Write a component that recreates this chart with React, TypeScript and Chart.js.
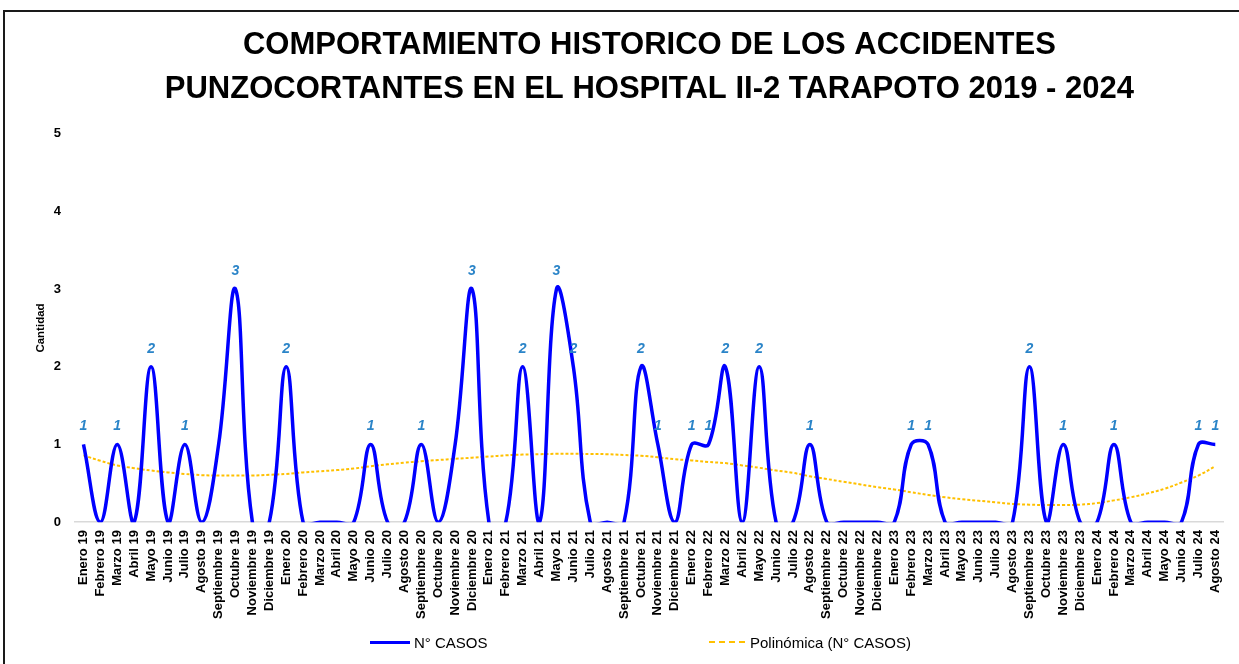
import React, { useEffect, useRef } from "react";
import { Chart, registerables } from "chart.js";

Chart.register(...registerables);

const months: string[] = [
  "Enero 19", "Febrero 19", "Marzo 19", "Abril 19", "Mayo 19", "Junio 19", "Julio 19", "Agosto 19", "Septiembre 19", "Octubre 19", "Noviembre 19", "Diciembre 19",
  "Enero 20", "Febrero 20", "Marzo 20", "Abril 20", "Mayo 20", "Junio 20", "Julio 20", "Agosto 20", "Septiembre 20", "Octubre 20", "Noviembre 20", "Diciembre 20",
  "Enero 21", "Febrero 21", "Marzo 21", "Abril 21", "Mayo 21", "Junio 21", "Julio 21", "Agosto 21", "Septiembre 21", "Octubre 21", "Noviembre 21", "Diciembre 21",
  "Enero 22", "Febrero 22", "Marzo 22", "Abril 22", "Mayo 22", "Junio 22", "Julio 22", "Agosto 22", "Septiembre 22", "Octubre 22", "Noviembre 22", "Diciembre 22",
  "Enero 23", "Febrero 23", "Marzo 23", "Abril 23", "Mayo 23", "Junio 23", "Julio 23", "Agosto 23", "Septiembre 23", "Octubre 23", "Noviembre 23", "Diciembre 23",
  "Enero 24", "Febrero 24", "Marzo 24", "Abril 24", "Mayo 24", "Junio 24", "Julio 24", "Agosto 24",
];

const casos: number[] = [
  1, 0, 1, 0, 2, 0, 1, 0, 1, 3, 0, 0,
  2, 0, 0, 0, 0, 1, 0, 0, 1, 0, 1, 3,
  0, 0, 2, 0, 3, 2, 0, 0, 0, 2, 1, 0,
  1, 1, 2, 0, 2, 0, 0, 1, 0, 0, 0, 0,
  0, 1, 1, 0, 0, 0, 0, 0, 2, 0, 1, 0,
  0, 1, 0, 0, 0, 0, 1, 1,
];

const tendencia: number[] = [
  0.86, 0.79, 0.73, 0.695, 0.665, 0.64, 0.62, 0.605, 0.6, 0.6, 0.6, 0.61,
  0.62, 0.64, 0.655, 0.67, 0.69, 0.72, 0.745, 0.765, 0.785, 0.8, 0.815, 0.83,
  0.845, 0.86, 0.87, 0.875, 0.88, 0.88, 0.878, 0.875, 0.865, 0.855, 0.835, 0.81,
  0.795, 0.775, 0.76, 0.73, 0.7, 0.665, 0.635, 0.59, 0.555, 0.52, 0.485, 0.45,
  0.42, 0.385, 0.35, 0.32, 0.295, 0.275, 0.255, 0.235, 0.225, 0.22, 0.22, 0.225,
  0.245, 0.28, 0.32, 0.37, 0.43, 0.51, 0.6, 0.72,
];

// points whose value label is not shown in the original
const hiddenLabels: number[] = [8, 22];

const yTicks: number[] = [0, 1, 2, 3, 4, 5];

const titleLines: string[] = [
  "COMPORTAMIENTO HISTORICO DE LOS ACCIDENTES",
  "PUNZOCORTANTES EN EL HOSPITAL II-2 TARAPOTO 2019 - 2024",
];

const serieNombre = "N° CASOS";
const tendenciaNombre = "Polinómica (N° CASOS)";

const SANS = "'Liberation Sans', Arial, sans-serif";

const valueLabelPlugin = {
  id: "valueLabels",
  afterDatasetsDraw(chart: any) {
    const meta = chart.getDatasetMeta(0);
    const ctx = chart.ctx;
    ctx.save();
    ctx.font = "italic bold 14px " + SANS;
    ctx.fillStyle = "#2A84C8";
    ctx.textAlign = "center";
    ctx.textBaseline = "middle";
    meta.data.forEach((pt: any, i: number) => {
      const v = casos[i];
      if (v > 0 && !hiddenLabels.includes(i)) {
        ctx.fillText(String(v), pt.x, pt.y - 18);
      }
    });
    ctx.restore();
  },
};

export default function App() {
  const canvasRef = useRef<HTMLCanvasElement | null>(null);

  useEffect(() => {
    if (!canvasRef.current) return;
    const chart = new Chart(canvasRef.current, {
      type: "line",
      data: {
        labels: months,
        datasets: [
          {
            label: serieNombre,
            data: casos,
            borderColor: "#0000FF",
            backgroundColor: "#0000FF",
            borderWidth: 3.5,
            pointRadius: 0,
            tension: 0.4,
            fill: false,
          },
          {
            label: tendenciaNombre,
            data: tendencia,
            borderColor: "#FFC000",
            backgroundColor: "#FFC000",
            borderWidth: 2,
            borderDash: [3, 2],
            pointRadius: 0,
            tension: 0.4,
            fill: false,
          },
        ],
      },
      options: {
        responsive: false,
        animation: false,
        elements: { line: { capBezierPoints: false } },
        layout: { padding: { left: 30, right: 9, top: 0, bottom: 37 } },
        plugins: {
          legend: { display: false },
          tooltip: { enabled: false },
          title: {
            display: true,
            text: titleLines,
            color: "#000",
            fullSize: false,
            font: { family: SANS, size: 31, weight: "bold", lineHeight: 1.45 },
            padding: { top: 22.5, bottom: 21.5 },
          },
        },
        scales: {
          x: {
            offset: true,
            grid: { display: false, drawTicks: false },
            border: { display: true, color: "#D9D9D9", width: 1.5 },
            ticks: {
              autoSkip: false,
              minRotation: 90,
              maxRotation: 90,
              padding: 8,
              color: "#000",
              font: { family: SANS, size: 13, weight: "bold" },
            },
          },
          y: {
            min: 0,
            max: 5,
            afterBuildTicks: (axis: any) => {
              axis.ticks = yTicks.map((v) => ({ value: v }));
            },
            grid: { display: false, drawTicks: false },
            border: { display: false },
            ticks: {
              padding: 14,
              color: "#000",
              font: { family: SANS, size: 13, weight: "bold" },
            },
            title: {
              display: true,
              text: "Cantidad",
              color: "#000",
              font: { family: SANS, size: 11.5, weight: "bold" },
              padding: { top: 4, bottom: -8 },
            },
          },
        },
      },
      plugins: [valueLabelPlugin],
    });
    return () => chart.destroy();
  }, []);

  return (
    <div style={{ position: "absolute", left: 0, top: 0, width: 1239, height: 664, background: "#fff", overflow: "hidden" }}>
      <canvas ref={canvasRef} width={1239} height={664} style={{ position: "absolute", left: 0, top: 0, width: 1239, height: 664 }} />
      <div style={{ position: "absolute", left: 3, top: 10, width: 1240, height: 660, borderLeft: "2px solid #1a1a1a", borderTop: "2px solid #1a1a1a", boxSizing: "border-box", pointerEvents: "none" }} />
      <div style={{ position: "absolute", left: 370, top: 632, height: 20, display: "flex", alignItems: "center", fontFamily: SANS, fontSize: 15, color: "#000" }}>
        <div style={{ width: 40, height: 3, background: "#0000FF", marginRight: 4 }} />
        <span>{serieNombre}</span>
      </div>
      <div style={{ position: "absolute", left: 709, top: 632, height: 20, display: "flex", alignItems: "center", fontFamily: SANS, fontSize: 15, color: "#000" }}>
        <div style={{ width: 36, height: 0, borderTop: "2px dashed #FFC000", marginRight: 5 }} />
        <span>{tendenciaNombre}</span>
      </div>
    </div>
  );
}
